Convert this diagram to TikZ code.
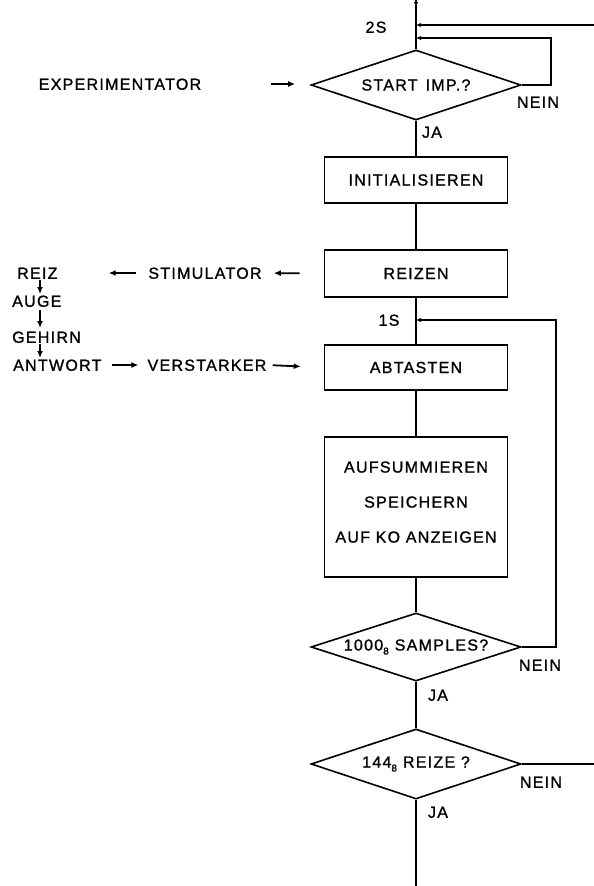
\documentclass[tikz,border=0pt]{standalone}
\usepackage{fontspec}
\setmainfont{Liberation Sans}[LetterSpace=8,FakeBold=1.2]
\usetikzlibrary{shapes.geometric,arrows.meta}
\begin{document}
\begin{tikzpicture}[x=1pt,y=-1pt,
 every node/.style={font=\fontsize{16}{18}\selectfont},
 txt/.style={inner sep=1pt, text height=11.5pt, text depth=0pt},
 box/.style={draw, line width=1.6pt, minimum width=183pt, minimum height=46pt, inner sep=0pt, align=center},
 dia/.style={draw, diamond, line width=1.6pt, minimum width=210pt, minimum height=70pt, inner sep=0pt},
 line/.style={line width=1.6pt},
 arr/.style={line width=1.8pt, -{Latex[length=7pt,width=6pt]}},
 sarr/.style={line width=1.6pt, -{Latex[length=5pt,width=4.5pt]}}]
\useasboundingbox (0,0) rectangle (594,886);

% main column
\node[dia] (start) at (416,85) {\makebox[0pt]{START\hspace{8pt}IMP.?}};
\node[box] (init) at (416,180) {INITIALISIEREN};
\node[box, minimum height=47pt] (reizen) at (416,273.5) {REIZEN};
\node[box, minimum height=45pt] (abtasten) at (416,367.5) {ABTASTEN};
\node[box, minimum height=140pt, font=\fontsize{16}{35}\selectfont, text depth=10pt] (aufs) at (416,507) {AUFSUMMIEREN\\SPEICHERN\\AUF KO ANZEIGEN};
\node[dia, minimum height=68pt] (samples) at (416,647) {\makebox[0pt]{1000\raisebox{-4pt}{\fontsize{10}{11}\selectfont 8}\hspace{6pt}SAMPLES?}};
\node[dia] (reize) at (416,764) {\makebox[0pt]{144\raisebox{-4pt}{\fontsize{10}{11}\selectfont 8}\hspace{6pt}REIZE ?}};

% free ends
\coordinate (topin) at (416,0);
\coordinate (r0) at (594,25);
\coordinate (r1) at (551,38);
\coordinate (r2) at (556,320);
\coordinate (r3) at (594,764);
\coordinate (bot) at (416,886);
\coordinate (xcol) at (40,0);

% connectors main column
\draw[line] (topin) -- (start.north);
\draw[sarr] (topin) -- ++(0,7);
\draw[sarr] (r0) -- (r0 -| start.north);
\draw[sarr] (start.east) -| (r1) -- (r1 -| start.north);
\draw[line] (start.south) -- (init.north);
\draw[line] (init.south) -- (reizen.north);
\draw[line] (reizen.south) -- (abtasten.north);
\draw[sarr] (samples.east) -| (r2) -- (r2 -| abtasten.north);
\draw[line] (abtasten.south) -- (aufs.north);
\draw[line] (aufs.south) -- (samples.north);
\draw[line] (samples.south) -- (reize.north);
\draw[line] (reize.east) -- (r3);
\draw[line] (reize.south) -- (bot);

% labels on main column
\node[txt] (l2s) at (376,27) {2S};
\node[txt] (l1s) at (389,320) {1S};
\node[txt] (ja1) at (432,132) {JA};
\node[txt] (ja2) at (438,695) {JA};
\node[txt] (ja3) at (438,812) {JA};
\node[txt] (nein1) at (538,102) {NEIN};
\node[txt] (nein2) at (540,665) {NEIN};
\node[txt] (nein3) at (541,782) {NEIN};

% left side
\node[txt] (exp) at (120,84) {EXPERIMENTATOR};
\node[txt] (stim) at (205,273) {STIMULATOR};
\node[txt] (vers) at (207,365) {VERSTARKER};
\node[txt, anchor=west] (reiz) at (16,273) {REIZ};
\node[txt, anchor=west] (auge) at (11,301) {AUGE};
\node[txt, anchor=west] (gehirn) at (11,337) {GEHIRN};
\node[txt, anchor=west] (antwort) at (12,365) {ANTWORT};

\draw[arr, shorten <=69pt, shorten >=15pt] (exp.east) -- (exp.east -| start.west);
\draw[arr, shorten <=24pt, shorten >=11pt] (reizen.west) -- (stim.east);
\draw[arr, shorten <=11pt, shorten >=50pt] (stim.west) -- (reiz.east);
\draw[arr, shorten <=9pt, shorten >=8pt] (antwort.east) -- (vers.west);
\draw[arr, shorten <=5pt, shorten >=23pt] (vers.east) -- (abtasten.west);
\draw[arr] (reiz.south -| xcol) -- (auge.north -| xcol);
\draw[arr, shorten <=2pt, shorten >=2pt] (auge.south -| xcol) -- (gehirn.north -| xcol);
\draw[arr] (gehirn.south -| xcol) -- (antwort.north -| xcol);
\end{tikzpicture}
\end{document}
